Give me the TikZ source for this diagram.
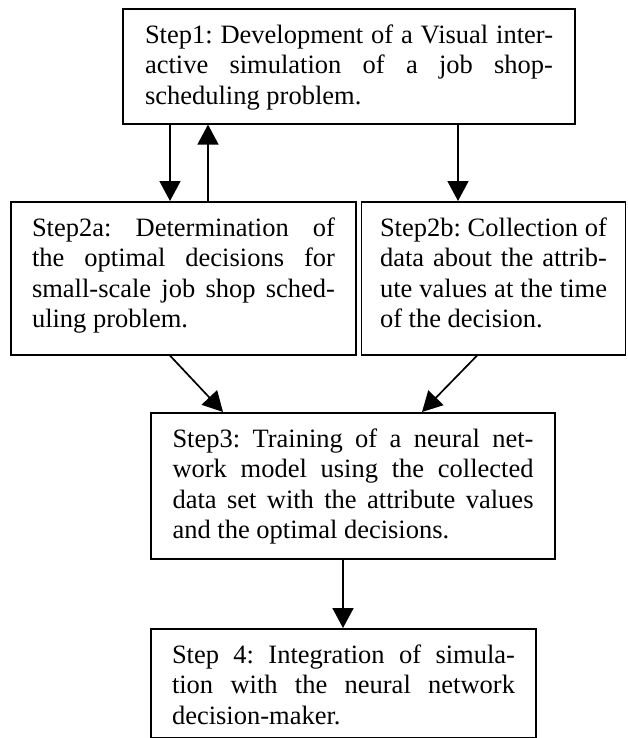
\documentclass[tikz,border=0pt]{standalone}
\usepackage{fontspec}
\setmainfont{Liberation Serif}
\usetikzlibrary{arrows.meta}
\tikzset{
  stepbox/.style={draw, line width=1.6pt, inner sep=0pt, align=justify, anchor=north,
    text height=34.5pt, font=\fontsize{26.5}{30.5}\selectfont,
    execute at begin node={\frenchspacing\hyphenpenalty=10000\exhyphenpenalty=10000\tolerance=10000}},
  arr/.style={line width=1.7pt, -{Triangle[length=20pt,width=21pt]}}
}
\begin{document}
\begin{tikzpicture}[x=1pt,y=-1pt]
\useasboundingbox (0,0) rectangle (627,738);
\node[stepbox, minimum width=452pt, text depth=80.5pt, text width=408pt] (b1) at (349,8)
 {Step1: Development of a Visual inter-\linebreak active simulation of a job shop-\linebreak scheduling problem.};
\node[stepbox, minimum width=345pt, text depth=118.5pt, text width=303pt] (b2a) at (183.5,201)
 {Step2a: Determination of\linebreak the optimal decisions for\linebreak small-scale job shop sched-\linebreak uling problem.};
\node[stepbox, minimum width=264pt, text depth=118.5pt, text width=227pt] (b2b) at (493.5,201)
 {Step2b: Collection of\linebreak data about the attrib-\linebreak ute values at the time\linebreak of the decision.};
\node[stepbox, minimum width=404pt, text depth=111.5pt, text width=361pt] (b3) at (353,412)
 {Step3: Training of a neural net-\linebreak work model using the collected\linebreak data set with the attribute values\linebreak and the optimal decisions.};
\node[stepbox, minimum width=385pt, text depth=74pt, text width=343pt] (b4) at (343.5,628)
 {Step 4: Integration of simula-\linebreak tion with the neural network\linebreak decision-maker.};
\draw[arr] (b1.south -| 170,0) -- (b2a.north -| 170,0);
\draw[arr] (b2a.north -| 208,0) -- (b1.south -| 208,0);
\draw[arr] (b1.south -| 458,0) -- (b2b.north -| 458,0);
\draw[arr] ([xshift=-13.5pt]b2a.south) -- ([xshift=-130pt]b3.north);
\draw[arr] ([xshift=-16.5pt]b2b.south) -- ([xshift=69pt]b3.north);
\draw[arr] (b3.south -| 343,0) -- (b4.north -| 343,0);
\end{tikzpicture}
\end{document}
